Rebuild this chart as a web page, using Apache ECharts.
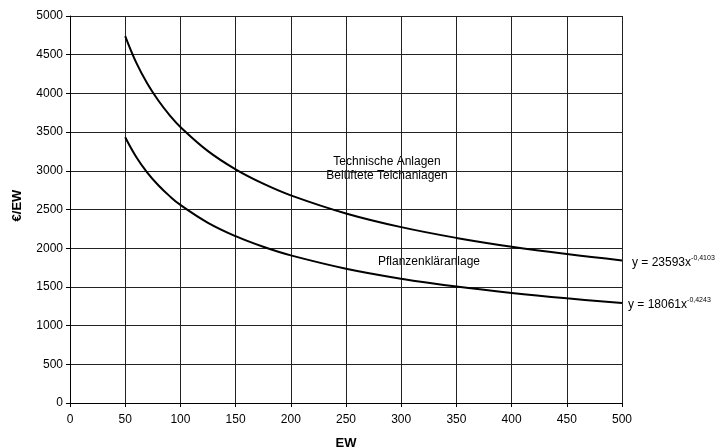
<!DOCTYPE html>
<html><head><meta charset="utf-8">
<script src="https://cdn.jsdelivr.net/npm/echarts@6/dist/echarts.min.js"></script>
<style>html,body{margin:0;padding:0;background:#fff}#c{width:720px;height:448px}</style>
</head><body><div id="c"></div>
<script>
var ewValues = [50, 60, 70, 80, 90, 100, 125, 150, 175, 200, 250, 300, 350, 400, 450, 500];
var technischeValues = [4740, 4397, 4128, 3908, 3723, 3566, 3254, 3019, 2834, 2683, 2449, 2272, 2133, 2019, 1924, 1842];
var pflanzenValues = [3434, 3179, 2977, 2813, 2676, 2559, 2328, 2155, 2018, 1907, 1735, 1606, 1504, 1421, 1352, 1293];
var eqTechnische = ['23593', '-0,4103'];
var eqPflanzen = ['18061', '-0,4243'];

function pairs(xs, ys){ return xs.map(function(x,i){ return [x, ys[i]]; }); }
var FONT = 'Liberation Sans, Arial, sans-serif';
var chart = echarts.init(document.getElementById('c'), null, {renderer:'canvas'});
function eqLabel(eq, dx){
  return {
    show: true, offset: [dx, 2],
    formatter: '{b|y = ' + eq[0] + 'x}{s|' + eq[1] + '}',
    rich: {
      b: {fontFamily: FONT, fontSize: 12, color: '#000'},
      s: {fontFamily: FONT, fontSize: 7, color: '#000', verticalAlign: 'bottom', padding: [0,0,9,0]}
    }
  };
}
chart.setOption({
  animation: false,
  backgroundColor: '#fff',
  grid: {left: 70, right: 98, top: 16, bottom: 45, containLabel: false, outerBoundsMode: 'none'},
  xAxis: {
    type: 'value', min: 0, max: 500, interval: 50,
    name: 'EW', nameLocation: 'middle', nameGap: 34,
    nameTextStyle: {fontFamily: FONT, fontSize: 13, fontWeight: 'bold', color: '#000'},
    axisLine: {onZero: false, lineStyle: {color: '#000', width: 1}},
    axisTick: {show: true, length: 4, lineStyle: {color: '#000'}},
    axisLabel: {fontFamily: FONT, fontSize: 12, color: '#000', margin: 11, formatter: function(v){ return String(v); }},
    splitLine: {show: true, lineStyle: {color: '#222', width: 1}}
  },
  yAxis: {
    type: 'value', min: 0, max: 5000, interval: 500,
    name: '€/EW', nameLocation: 'middle', nameGap: 46, nameRotate: 90,
    nameTextStyle: {fontFamily: FONT, fontSize: 13, fontWeight: 'bold', color: '#000', padding: [0, 0, 0, 8]},
    axisLine: {show: true, onZero: false, lineStyle: {color: '#000', width: 1}},
    axisTick: {show: true, length: 4, lineStyle: {color: '#000'}},
    axisLabel: {fontFamily: FONT, fontSize: 12, color: '#000', margin: 7, formatter: function(v){ return String(v); }},
    splitLine: {show: true, lineStyle: {color: '#222', width: 1}}
  },
  series: [
    {
      name: 'Technische Anlagen / Belüftete Teichanlagen', type: 'line',
      data: pairs(ewValues, technischeValues), smooth: 0.4, showSymbol: false, symbol: 'none',
      lineStyle: {color: '#000', width: 2},
      endLabel: eqLabel(eqTechnische, 2)
    },
    {
      name: 'Pflanzenkläranlage', type: 'line',
      data: pairs(ewValues, pflanzenValues), smooth: 0.4, showSymbol: false, symbol: 'none',
      lineStyle: {color: '#000', width: 2},
      endLabel: eqLabel(eqPflanzen, -2)
    }
  ],
  graphic: [
    {type: 'text', x: 387, y: 162, style: {text: 'Technische Anlagen', fontFamily: FONT, fontSize: 12, fill: '#000', align: 'center', verticalAlign: 'middle'}},
    {type: 'text', x: 387, y: 176, style: {text: 'Belüftete Teichanlagen', fontFamily: FONT, fontSize: 12, fill: '#000', align: 'center', verticalAlign: 'middle'}},
    {type: 'text', x: 429, y: 262, style: {text: 'Pflanzenkläranlage', fontFamily: FONT, fontSize: 12, fill: '#000', align: 'center', verticalAlign: 'middle'}}
  ]
});
</script></body></html>
